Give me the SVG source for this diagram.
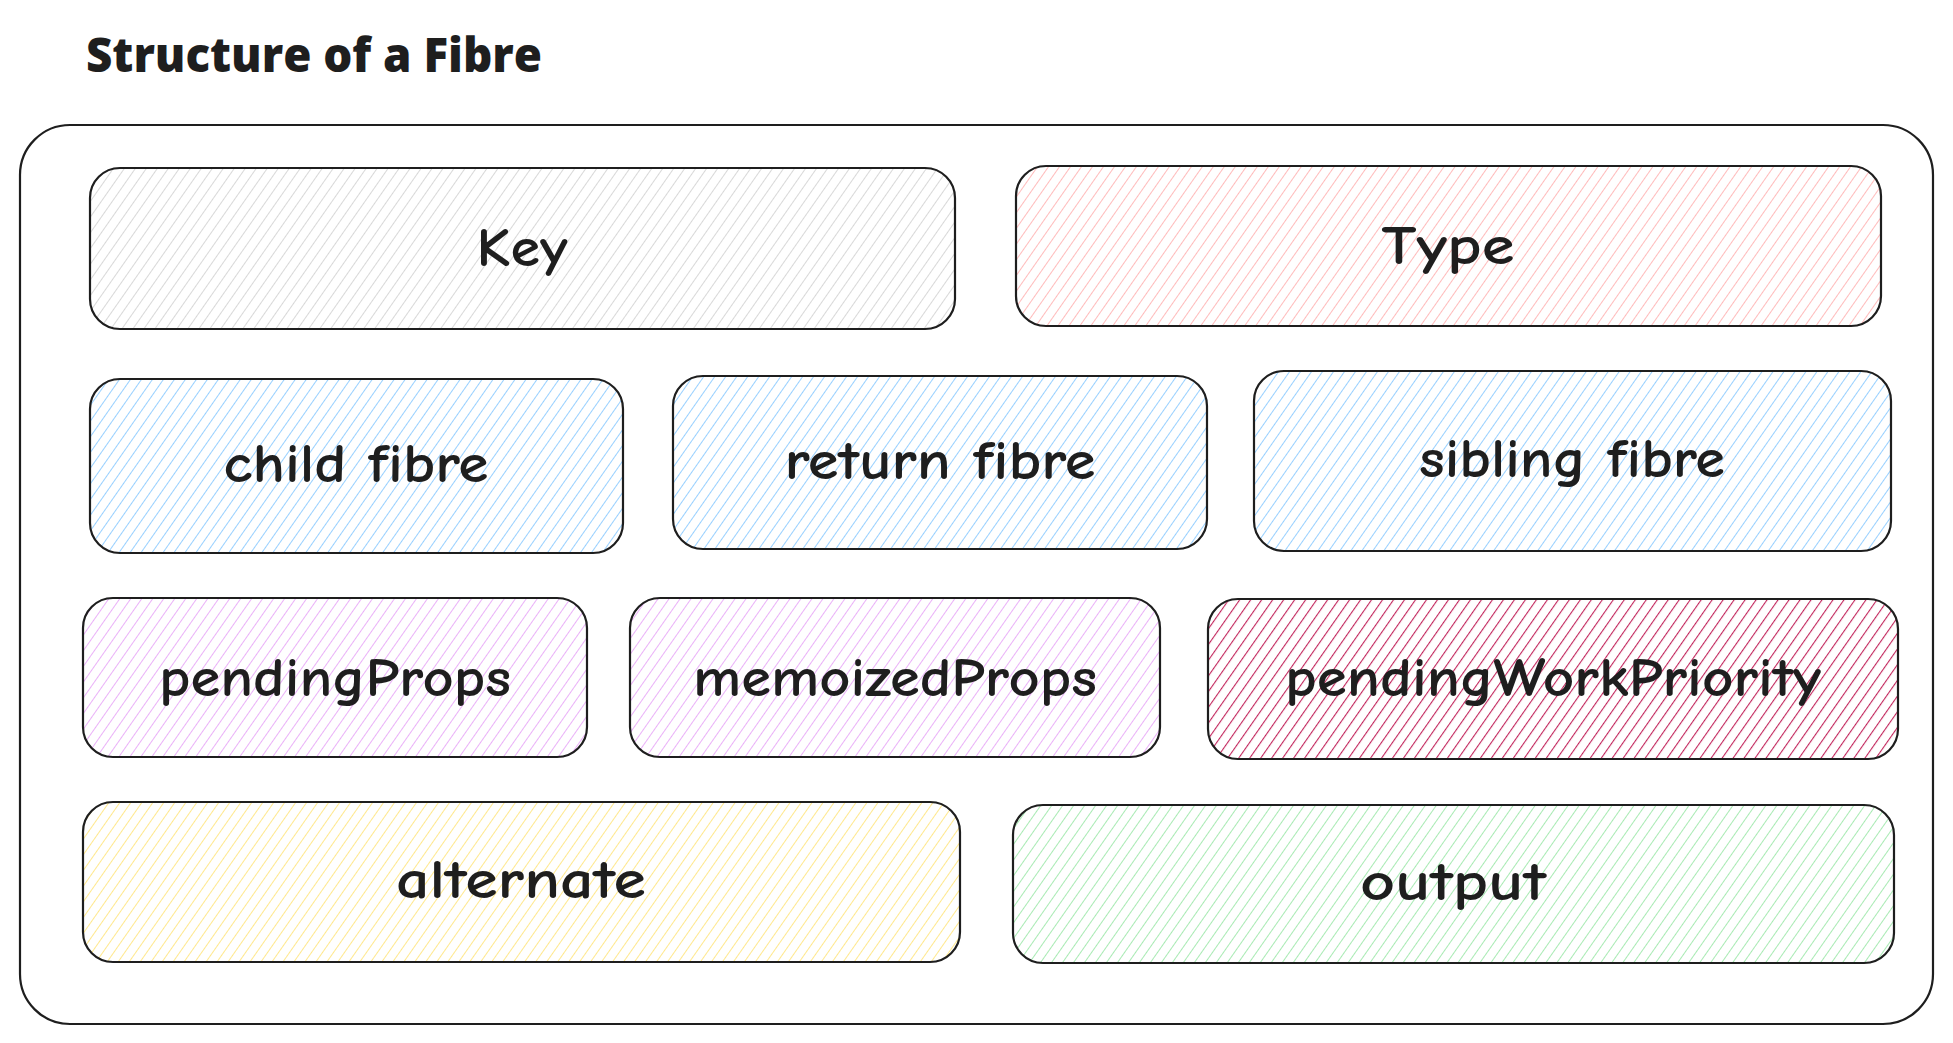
<svg xmlns="http://www.w3.org/2000/svg" width="1953" height="1043" viewBox="0 0 1953 1043">
<defs>
<pattern id="pg" width="9" height="9" patternUnits="userSpaceOnUse" patternTransform="rotate(35)"><line x1="0" y1="0" x2="0" y2="9" stroke="#d4d4d4" stroke-width="1.8"/></pattern>
<pattern id="pr" width="9" height="9" patternUnits="userSpaceOnUse" patternTransform="rotate(35)"><line x1="0" y1="0" x2="0" y2="9" stroke="#ffb3b3" stroke-width="1.8"/></pattern>
<pattern id="pb" width="9" height="9" patternUnits="userSpaceOnUse" patternTransform="rotate(35)"><line x1="0" y1="0" x2="0" y2="9" stroke="#8ccbff" stroke-width="1.8"/></pattern>
<pattern id="pp" width="9" height="9" patternUnits="userSpaceOnUse" patternTransform="rotate(35)"><line x1="0" y1="0" x2="0" y2="9" stroke="#e8a8f8" stroke-width="1.8"/></pattern>
<pattern id="pd" width="9" height="9" patternUnits="userSpaceOnUse" patternTransform="rotate(35)"><line x1="0" y1="0" x2="0" y2="9" stroke="#c2255c" stroke-width="2.2"/></pattern>
<pattern id="py" width="9" height="9" patternUnits="userSpaceOnUse" patternTransform="rotate(35)"><line x1="0" y1="0" x2="0" y2="9" stroke="#ffe680" stroke-width="1.8"/></pattern>
<pattern id="pgr" width="9" height="9" patternUnits="userSpaceOnUse" patternTransform="rotate(35)"><line x1="0" y1="0" x2="0" y2="9" stroke="#9ee8aa" stroke-width="1.8"/></pattern>
</defs>
<style>
.b{stroke:#1e1e1e;stroke-width:2.2}
.t{font-family:"Comic Neue","Liberation Sans",sans-serif;font-weight:bold;font-size:54px;fill:#1e1e1e;text-anchor:middle;dominant-baseline:central}
</style>
<rect width="1953" height="1043" fill="#fff"/>
<text x="86" y="72" font-family="'Open Sans',Lato,sans-serif" font-weight="800" font-size="48" fill="#1e1e1e" textLength="456" lengthAdjust="spacingAndGlyphs">Structure of a Fibre</text>
<g id="outer"><rect x="20" y="125" width="1913" height="899" rx="50" fill="none" class="b"/></g>
<g id="key"><rect x="90" y="168" width="865" height="161" rx="30" fill="url(#pg)" class="b"/><text class="t" x="522" y="248" textLength="91" lengthAdjust="spacingAndGlyphs">Key</text></g>
<g id="type"><rect x="1016" y="166" width="865" height="160" rx="30" fill="url(#pr)" class="b"/><text class="t" x="1448" y="246" textLength="133" lengthAdjust="spacingAndGlyphs">Type</text></g>
<g id="child"><rect x="90" y="379" width="533" height="174" rx="30" fill="url(#pb)" class="b"/><text class="t" x="356" y="464" textLength="265" lengthAdjust="spacingAndGlyphs">child fibre</text></g>
<g id="return"><rect x="673" y="376" width="534" height="173" rx="30" fill="url(#pb)" class="b"/><text class="t" x="940" y="461" textLength="311" lengthAdjust="spacingAndGlyphs">return fibre</text></g>
<g id="sibling"><rect x="1254" y="371" width="637" height="180" rx="30" fill="url(#pb)" class="b"/><text class="t" x="1572" y="459" textLength="306" lengthAdjust="spacingAndGlyphs">sibling fibre</text></g>
<g id="pendingProps"><rect x="83" y="598" width="504" height="159" rx="30" fill="url(#pp)" class="b"/><text class="t" x="335" y="678" textLength="352" lengthAdjust="spacingAndGlyphs">pendingProps</text></g>
<g id="memoizedProps"><rect x="630" y="598" width="530" height="159" rx="30" fill="url(#pp)" class="b"/><text class="t" x="895" y="678" textLength="404" lengthAdjust="spacingAndGlyphs">memoizedProps</text></g>
<g id="pendingWorkPriority"><rect x="1208" y="599" width="690" height="160" rx="30" fill="url(#pd)" class="b"/><text class="t" x="1553" y="678" textLength="536" lengthAdjust="spacingAndGlyphs">pendingWorkPriority</text></g>
<g id="alternate"><rect x="83" y="802" width="877" height="160" rx="30" fill="url(#py)" class="b"/><text class="t" x="521" y="880" textLength="250" lengthAdjust="spacingAndGlyphs">alternate</text></g>
<g id="output"><rect x="1013" y="805" width="881" height="158" rx="30" fill="url(#pgr)" class="b"/><text class="t" x="1453" y="882" textLength="186" lengthAdjust="spacingAndGlyphs">output</text></g>
<g id="connectors"/>
</svg>
